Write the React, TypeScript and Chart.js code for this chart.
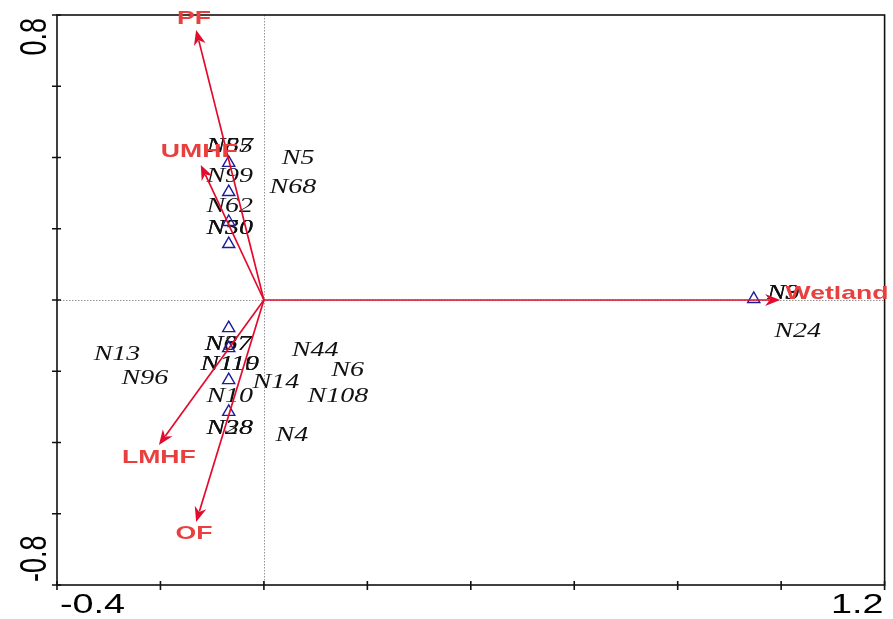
import React, { useEffect, useRef } from "react";
import { Chart, registerables } from "chart.js";

Chart.register(...registerables);

// Axis ranges and tick labels
const xRange = [-0.4, 1.2];
const yRange = [-0.8, 0.8];
const xTickStep = 0.2;
const yTickStep = 0.2;
const xTickLabels = ["-0.4", "1.2"];
const yTickLabels = ["-0.8", "0.8"];

// Environmental variable arrows (biplot scores)
const envNames = ["PF", "UMHF", "LMHF", "OF", "Wetland"];
const envX = [-0.131, -0.122, -0.203, -0.131, 0.998];
const envY = [0.758, 0.379, -0.407, -0.623, 0.0];
const envLabelX = [-0.135, -0.125, -0.203, -0.135, 1.108];
const envLabelY = [0.79, 0.415, -0.444, -0.657, 0.017];

// Species / site points (triangles)
const ptX = [-0.068, -0.068, -0.068, -0.068, -0.068, -0.068, -0.068, -0.068, 0.947];
const ptY = [0.385, 0.303, 0.219, 0.157, -0.079, -0.135, -0.225, -0.314, 0.003];

// Site labels
const siteNames = [
  "N57", "N85", "N99", "N62", "N30", "N50", "N5", "N68",
  "N67", "N37", "N110", "N119", "N10", "N38", "N28",
  "N13", "N96", "N14", "N44", "N6", "N108", "N4", "N24", "N9", "N3",
];
const siteX = [
  -0.066, -0.066, -0.066, -0.066, -0.066, -0.066, 0.066, 0.056,
  -0.069, -0.069, -0.066, -0.066, -0.066, -0.066, -0.066,
  -0.284, -0.230, 0.023, 0.099, 0.162, 0.143, 0.054, 1.032, 1.004, 1.004,
];
const siteY = [
  0.429, 0.429, 0.345, 0.261, 0.199, 0.199, 0.396, 0.314,
  -0.126, -0.126, -0.182, -0.182, -0.272, -0.362, -0.362,
  -0.154, -0.222, -0.233, -0.143, -0.199, -0.272, -0.382, -0.090, 0.017, 0.017,
];

const STRETCH = 1.4;
const RED = "#e30b2c";
const LABEL_RED = "#e8403f";

function stretchedText(
  ctx: CanvasRenderingContext2D,
  text: string,
  x: number,
  y: number,
  font: string,
  color: string,
  align: CanvasTextAlign,
  rotate = 0
) {
  ctx.save();
  ctx.translate(x, y);
  ctx.scale(STRETCH, 1);
  if (rotate) ctx.rotate(rotate);
  ctx.font = font;
  ctx.fillStyle = color;
  ctx.textAlign = align;
  ctx.textBaseline = "middle";
  ctx.fillText(text, 0, 0);
  ctx.restore();
}

const biplotPlugin = {
  id: "biplot",
  beforeDatasetsDraw(chart: any) {
    const ctx: CanvasRenderingContext2D = chart.ctx;
    const xs = chart.scales.x;
    const ys = chart.scales.y;
    const { left, right, top, bottom } = chart.chartArea;
    ctx.save();
    // zero lines
    ctx.strokeStyle = "#777";
    ctx.lineWidth = 0.8;
    ctx.setLineDash([1.5, 1.5]);
    const x0 = Math.round(xs.getPixelForValue(0)) + 0.5;
    const y0 = Math.round(ys.getPixelForValue(0)) + 0.5;
    ctx.beginPath();
    ctx.moveTo(x0, top);
    ctx.lineTo(x0, bottom);
    ctx.moveTo(left, y0);
    ctx.lineTo(right, y0);
    ctx.stroke();
    ctx.setLineDash([]);
    // frame
    ctx.strokeStyle = "#111";
    ctx.lineWidth = 1.6;
    ctx.strokeRect(left, top, right - left, bottom - top);
    // ticks
    ctx.beginPath();
    for (let v = xRange[0]; v <= xRange[1] + 1e-9; v += xTickStep) {
      const px = xs.getPixelForValue(v);
      ctx.moveTo(px, bottom - 4);
      ctx.lineTo(px, bottom + 5);
    }
    for (let v = yRange[0]; v <= yRange[1] + 1e-9; v += yTickStep) {
      const py = ys.getPixelForValue(v);
      ctx.moveTo(left - 5, py);
      ctx.lineTo(left + 4, py);
    }
    ctx.stroke();
    // tick labels
    const tf = "27px 'Liberation Sans', Arial, sans-serif";
    stretchedText(ctx, xTickLabels[0], xs.getPixelForValue(xRange[0]) + 3, bottom + 21, tf, "#000", "left");
    stretchedText(ctx, xTickLabels[1], xs.getPixelForValue(xRange[1]) - 1, bottom + 21, tf, "#000", "right");
    stretchedText(ctx, yTickLabels[0], left - 21, ys.getPixelForValue(yRange[0]) - 3, tf, "#000", "left", -Math.PI / 2);
    stretchedText(ctx, yTickLabels[1], left - 21, ys.getPixelForValue(yRange[1]) + 3, tf, "#000", "right", -Math.PI / 2);
    // site labels
    const sf = "italic 20px 'Liberation Serif', 'Times New Roman', serif";
    for (let i = 0; i < siteNames.length; i++) {
      stretchedText(ctx, siteNames[i], xs.getPixelForValue(siteX[i]), ys.getPixelForValue(siteY[i]), sf, "#111", "center");
    }
    ctx.restore();
  },
  afterDatasetsDraw(chart: any) {
    const ctx: CanvasRenderingContext2D = chart.ctx;
    const xs = chart.scales.x;
    const ys = chart.scales.y;
    const ox = xs.getPixelForValue(0);
    const oy = ys.getPixelForValue(0);
    ctx.save();
    for (let i = 0; i < envNames.length; i++) {
      const tx = xs.getPixelForValue(envX[i]);
      const ty = ys.getPixelForValue(envY[i]);
      const ang = Math.atan2(ty - oy, tx - ox);
      const hl = 15;
      const hw = 6;
      const bx = tx - hl * Math.cos(ang);
      const by = ty - hl * Math.sin(ang);
      ctx.strokeStyle = RED;
      ctx.fillStyle = RED;
      ctx.lineWidth = 1.7;
      ctx.beginPath();
      ctx.moveTo(ox, oy);
      ctx.lineTo(bx + 4 * Math.cos(ang), by + 4 * Math.sin(ang));
      ctx.stroke();
      ctx.beginPath();
      ctx.moveTo(tx, ty);
      ctx.lineTo(bx + hw * Math.sin(ang), by - hw * Math.cos(ang));
      ctx.lineTo(bx + 0.3 * hl * Math.cos(ang), by + 0.3 * hl * Math.sin(ang));
      ctx.lineTo(bx - hw * Math.sin(ang), by + hw * Math.cos(ang));
      ctx.closePath();
      ctx.fill();
    }
    const lf = "bold 19px 'Liberation Sans', Arial, sans-serif";
    for (let i = 0; i < envNames.length; i++) {
      stretchedText(ctx, envNames[i], xs.getPixelForValue(envLabelX[i]), ys.getPixelForValue(envLabelY[i]), lf, LABEL_RED, "center");
    }
    ctx.restore();
  },
};

export default function App() {
  const ref = useRef<HTMLCanvasElement | null>(null);
  useEffect(() => {
    document.body.style.margin = "0";
    const canvas = ref.current;
    if (!canvas) return;
    const chart = new Chart(canvas, {
      type: "scatter",
      data: {
        datasets: [
          {
            data: ptX.map((x, i) => ({ x, y: ptY[i] })),
            pointStyle: "triangle",
            radius: 7,
            borderColor: "#1c1c9c",
            backgroundColor: "rgba(0,0,0,0)",
            borderWidth: 1.4,
          },
        ],
      },
      options: {
        responsive: false,
        animation: false,
        devicePixelRatio: 1,
        layout: { padding: { left: 57, right: 8, top: 15, bottom: 34 } },
        plugins: { legend: { display: false }, tooltip: { enabled: false } },
        scales: {
          x: { type: "linear", min: xRange[0], max: xRange[1], display: false },
          y: { type: "linear", min: yRange[0], max: yRange[1], display: false },
        },
      },
      plugins: [biplotPlugin],
    });
    return () => chart.destroy();
  }, []);
  return (
    <div style={{ width: 893, height: 619, background: "#fff" }}>
      <canvas ref={ref} width={893} height={619} style={{ display: "block" }} />
    </div>
  );
}
